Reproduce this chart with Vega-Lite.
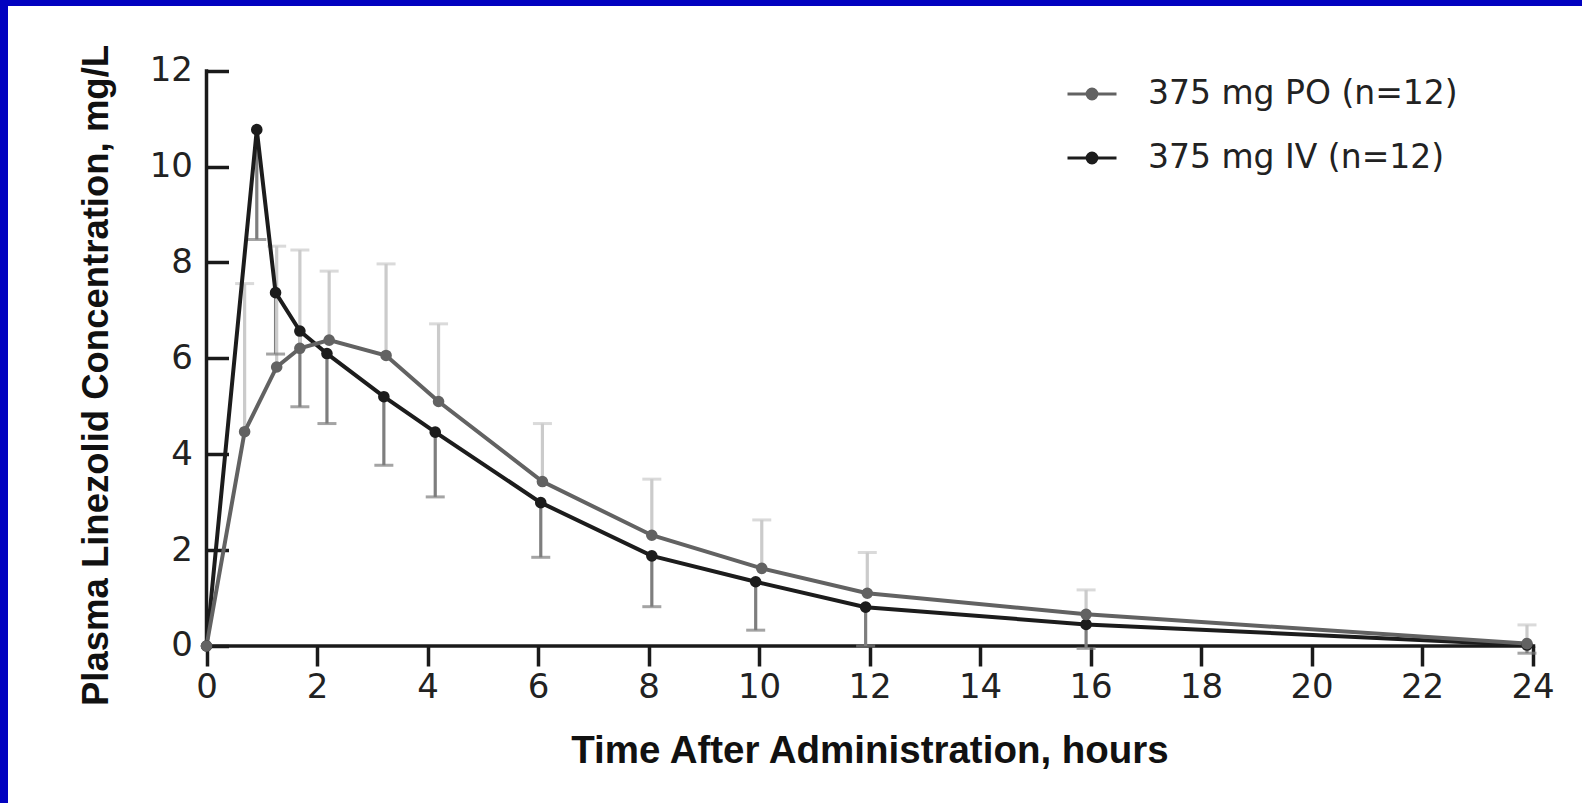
{
  "$schema": "https://vega.github.io/schema/vega-lite/v6.json",
  "width": 1574,
  "height": 797,
  "autosize": {"type": "none"},
  "padding": {"left": 8, "top": 6, "right": 0, "bottom": 0},
  "background": "#0202c0",
  "view": {"fill": "white", "stroke": null},
  "config": {"font": "DejaVu Sans"},
  "data": {
    "values": [
      {"group": "375 mg IV (n=12)", "time": 0, "conc": 0, "bound": null},
      {"group": "375 mg IV (n=12)", "time": 0.91, "conc": 10.77, "bound": 8.48},
      {"group": "375 mg IV (n=12)", "time": 1.25, "conc": 7.37, "bound": 6.09},
      {"group": "375 mg IV (n=12)", "time": 1.69, "conc": 6.57, "bound": 4.99},
      {"group": "375 mg IV (n=12)", "time": 2.18, "conc": 6.10, "bound": 4.64},
      {"group": "375 mg IV (n=12)", "time": 3.21, "conc": 5.20, "bound": 3.77},
      {"group": "375 mg IV (n=12)", "time": 4.14, "conc": 4.46, "bound": 3.11},
      {"group": "375 mg IV (n=12)", "time": 6.05, "conc": 2.99, "bound": 1.85},
      {"group": "375 mg IV (n=12)", "time": 8.06, "conc": 1.88, "bound": 0.82},
      {"group": "375 mg IV (n=12)", "time": 9.94, "conc": 1.34, "bound": 0.33},
      {"group": "375 mg IV (n=12)", "time": 11.93, "conc": 0.81, "bound": 0.0},
      {"group": "375 mg IV (n=12)", "time": 15.92, "conc": 0.45, "bound": -0.05},
      {"group": "375 mg IV (n=12)", "time": 23.9, "conc": 0.02, "bound": -0.15},
      {"group": "375 mg PO (n=12)", "time": 0, "conc": 0, "bound": null},
      {"group": "375 mg PO (n=12)", "time": 0.69, "conc": 4.47, "bound": 7.56},
      {"group": "375 mg PO (n=12)", "time": 1.27, "conc": 5.82, "bound": 8.34},
      {"group": "375 mg PO (n=12)", "time": 1.69, "conc": 6.21, "bound": 8.26},
      {"group": "375 mg PO (n=12)", "time": 2.22, "conc": 6.38, "bound": 7.82},
      {"group": "375 mg PO (n=12)", "time": 3.25, "conc": 6.06, "bound": 7.97},
      {"group": "375 mg PO (n=12)", "time": 4.2, "conc": 5.10, "bound": 6.72},
      {"group": "375 mg PO (n=12)", "time": 6.08, "conc": 3.43, "bound": 4.64},
      {"group": "375 mg PO (n=12)", "time": 8.06, "conc": 2.31, "bound": 3.48},
      {"group": "375 mg PO (n=12)", "time": 10.05, "conc": 1.62, "bound": 2.63},
      {"group": "375 mg PO (n=12)", "time": 11.96, "conc": 1.10, "bound": 1.95},
      {"group": "375 mg PO (n=12)", "time": 15.92, "conc": 0.66, "bound": 1.17},
      {"group": "375 mg PO (n=12)", "time": 23.9, "conc": 0.05, "bound": 0.44}
    ]
  },
  "layer": [
    {
      "data": {"values": [{}]},
      "mark": {"type": "rule", "color": "#1a1a1a", "strokeWidth": 3.5},
      "encoding": {
        "x": {"datum": 0, "type": "quantitative", "scale": {"domain": [-3.5928, 24.8959], "nice": false, "zero": false},
          "axis": {"values": [0, 2, 4, 6, 8, 10, 12, 14, 16, 18, 20, 22, 24], "offset": -157, "domain": false, "grid": false, "tickSize": 20, "tickWidth": 3.5, "tickColor": "#1a1a1a", "labelFont": "DejaVu Sans", "labelFontSize": 34, "labelColor": "#222222", "labelPadding": 4, "labelFlush": false, "labelOverlap": false, "title": "Time After Administration, hours", "titleFont": "Liberation Sans", "titleFontSize": 38.5, "titleFontWeight": "bold", "titleColor": "#111111", "titleX": 861.5, "titleY": 116, "titleBaseline": "alphabetic", "titleAlign": "center"}},
        "x2": {"datum": 24.05},
        "y": {"datum": 0, "type": "quantitative", "scale": {"domain": [-3.275, 13.35], "nice": false, "zero": false},
          "axis": {"values": [0, 2, 4, 6, 8, 10, 12], "offset": -198.5, "domain": false, "grid": false, "tickSize": -22, "tickWidth": 3.5, "tickColor": "#1a1a1a", "labelFont": "DejaVu Sans", "labelFontSize": 34, "labelColor": "#222222", "labelPadding": 36, "labelFlush": false, "labelOverlap": false, "title": "Plasma Linezolid Concentration, mg/L", "titleFont": "Liberation Sans", "titleFontSize": 36.5, "titleFontWeight": "bold", "titleColor": "#111111", "titleX": -99.5, "titleY": 369, "titleAngle": 270, "titleBaseline": "alphabetic", "titleAlign": "center"}}
      }
    },
    {
      "data": {"values": [{}]},
      "mark": {"type": "rule", "color": "#1a1a1a", "strokeWidth": 3.5},
      "encoding": {
        "x": {"datum": 0, "type": "quantitative", "scale": {"domain": [-3.5928, 24.8959], "nice": false, "zero": false},
          "axis": {"values": [0, 2, 4, 6, 8, 10, 12, 14, 16, 18, 20, 22, 24], "offset": -157, "domain": false, "grid": false, "tickSize": 20, "tickWidth": 3.5, "tickColor": "#1a1a1a", "labelFont": "DejaVu Sans", "labelFontSize": 34, "labelColor": "#222222", "labelPadding": 4, "labelFlush": false, "labelOverlap": false, "title": "Time After Administration, hours", "titleFont": "Liberation Sans", "titleFontSize": 38.5, "titleFontWeight": "bold", "titleColor": "#111111", "titleX": 861.5, "titleY": 116, "titleBaseline": "alphabetic", "titleAlign": "center"}},
        "y": {"datum": -0.02, "type": "quantitative", "scale": {"domain": [-3.275, 13.35], "nice": false, "zero": false},
          "axis": {"values": [0, 2, 4, 6, 8, 10, 12], "offset": -198.5, "domain": false, "grid": false, "tickSize": -22, "tickWidth": 3.5, "tickColor": "#1a1a1a", "labelFont": "DejaVu Sans", "labelFontSize": 34, "labelColor": "#222222", "labelPadding": 36, "labelFlush": false, "labelOverlap": false, "title": "Plasma Linezolid Concentration, mg/L", "titleFont": "Liberation Sans", "titleFontSize": 36.5, "titleFontWeight": "bold", "titleColor": "#111111", "titleX": -99.5, "titleY": 369, "titleAngle": 270, "titleBaseline": "alphabetic", "titleAlign": "center"}},
        "y2": {"datum": 12.03}
      }
    },
    {
      "transform": [{"filter": "datum.bound != null"}],
      "mark": {"type": "rule", "strokeWidth": 3.2},
      "encoding": {
        "x": {"field": "time", "type": "quantitative", "scale": {"domain": [-3.5928, 24.8959], "nice": false, "zero": false},
          "axis": {"values": [0, 2, 4, 6, 8, 10, 12, 14, 16, 18, 20, 22, 24], "offset": -157, "domain": false, "grid": false, "tickSize": 20, "tickWidth": 3.5, "tickColor": "#1a1a1a", "labelFont": "DejaVu Sans", "labelFontSize": 34, "labelColor": "#222222", "labelPadding": 4, "labelFlush": false, "labelOverlap": false, "title": "Time After Administration, hours", "titleFont": "Liberation Sans", "titleFontSize": 38.5, "titleFontWeight": "bold", "titleColor": "#111111", "titleX": 861.5, "titleY": 116, "titleBaseline": "alphabetic", "titleAlign": "center"}},
        "y": {"field": "conc", "type": "quantitative", "scale": {"domain": [-3.275, 13.35], "nice": false, "zero": false},
          "axis": {"values": [0, 2, 4, 6, 8, 10, 12], "offset": -198.5, "domain": false, "grid": false, "tickSize": -22, "tickWidth": 3.5, "tickColor": "#1a1a1a", "labelFont": "DejaVu Sans", "labelFontSize": 34, "labelColor": "#222222", "labelPadding": 36, "labelFlush": false, "labelOverlap": false, "title": "Plasma Linezolid Concentration, mg/L", "titleFont": "Liberation Sans", "titleFontSize": 36.5, "titleFontWeight": "bold", "titleColor": "#111111", "titleX": -99.5, "titleY": 369, "titleAngle": 270, "titleBaseline": "alphabetic", "titleAlign": "center"}},
        "y2": {"field": "bound"},
        "stroke": {"field": "group", "type": "nominal", "scale": {"domain": ["375 mg IV (n=12)", "375 mg PO (n=12)"], "range": ["#7e7e7e", "#cbcbcb"]}, "legend": null}
      }
    },
    {
      "transform": [{"filter": "datum.bound != null"}],
      "mark": {"type": "tick", "orient": "horizontal", "size": 19, "thickness": 3},
      "encoding": {
        "x": {"field": "time", "type": "quantitative", "scale": {"domain": [-3.5928, 24.8959], "nice": false, "zero": false},
          "axis": {"values": [0, 2, 4, 6, 8, 10, 12, 14, 16, 18, 20, 22, 24], "offset": -157, "domain": false, "grid": false, "tickSize": 20, "tickWidth": 3.5, "tickColor": "#1a1a1a", "labelFont": "DejaVu Sans", "labelFontSize": 34, "labelColor": "#222222", "labelPadding": 4, "labelFlush": false, "labelOverlap": false, "title": "Time After Administration, hours", "titleFont": "Liberation Sans", "titleFontSize": 38.5, "titleFontWeight": "bold", "titleColor": "#111111", "titleX": 861.5, "titleY": 116, "titleBaseline": "alphabetic", "titleAlign": "center"}},
        "y": {"field": "bound", "type": "quantitative", "scale": {"domain": [-3.275, 13.35], "nice": false, "zero": false},
          "axis": {"values": [0, 2, 4, 6, 8, 10, 12], "offset": -198.5, "domain": false, "grid": false, "tickSize": -22, "tickWidth": 3.5, "tickColor": "#1a1a1a", "labelFont": "DejaVu Sans", "labelFontSize": 34, "labelColor": "#222222", "labelPadding": 36, "labelFlush": false, "labelOverlap": false, "title": "Plasma Linezolid Concentration, mg/L", "titleFont": "Liberation Sans", "titleFontSize": 36.5, "titleFontWeight": "bold", "titleColor": "#111111", "titleX": -99.5, "titleY": 369, "titleAngle": 270, "titleBaseline": "alphabetic", "titleAlign": "center"}},
        "fill": {"field": "group", "type": "nominal", "scale": {"domain": ["375 mg IV (n=12)", "375 mg PO (n=12)"], "range": ["#7e7e7e", "#cbcbcb"]}, "legend": null}
      }
    },
    {
      "mark": {"type": "line", "strokeWidth": 4},
      "encoding": {
        "x": {"field": "time", "type": "quantitative", "scale": {"domain": [-3.5928, 24.8959], "nice": false, "zero": false},
          "axis": {"values": [0, 2, 4, 6, 8, 10, 12, 14, 16, 18, 20, 22, 24], "offset": -157, "domain": false, "grid": false, "tickSize": 20, "tickWidth": 3.5, "tickColor": "#1a1a1a", "labelFont": "DejaVu Sans", "labelFontSize": 34, "labelColor": "#222222", "labelPadding": 4, "labelFlush": false, "labelOverlap": false, "title": "Time After Administration, hours", "titleFont": "Liberation Sans", "titleFontSize": 38.5, "titleFontWeight": "bold", "titleColor": "#111111", "titleX": 861.5, "titleY": 116, "titleBaseline": "alphabetic", "titleAlign": "center"}},
        "y": {"field": "conc", "type": "quantitative", "scale": {"domain": [-3.275, 13.35], "nice": false, "zero": false},
          "axis": {"values": [0, 2, 4, 6, 8, 10, 12], "offset": -198.5, "domain": false, "grid": false, "tickSize": -22, "tickWidth": 3.5, "tickColor": "#1a1a1a", "labelFont": "DejaVu Sans", "labelFontSize": 34, "labelColor": "#222222", "labelPadding": 36, "labelFlush": false, "labelOverlap": false, "title": "Plasma Linezolid Concentration, mg/L", "titleFont": "Liberation Sans", "titleFontSize": 36.5, "titleFontWeight": "bold", "titleColor": "#111111", "titleX": -99.5, "titleY": 369, "titleAngle": 270, "titleBaseline": "alphabetic", "titleAlign": "center"}},
        "color": {"field": "group", "type": "nominal", "scale": {"domain": ["375 mg PO (n=12)", "375 mg IV (n=12)"], "range": ["#626262", "#1c1c1c"]},
          "legend": {"orient": "none", "legendX": 1058, "legendY": 62, "title": null, "symbolType": "M-1,0L1,0M-0.2,0A0.2,0.2,0,1,1,0.2,0A0.2,0.2,0,1,1,-0.2,0Z", "symbolSize": 2401, "symbolStrokeWidth": 3, "labelFont": "DejaVu Sans", "labelFontSize": 33, "labelColor": "#222222", "labelOffset": 30, "rowPadding": 21, "padding": 0, "labelLimit": 600}}
      }
    },
    {
      "mark": {"type": "circle", "size": 135, "opacity": 1},
      "encoding": {
        "x": {"field": "time", "type": "quantitative", "scale": {"domain": [-3.5928, 24.8959], "nice": false, "zero": false},
          "axis": {"values": [0, 2, 4, 6, 8, 10, 12, 14, 16, 18, 20, 22, 24], "offset": -157, "domain": false, "grid": false, "tickSize": 20, "tickWidth": 3.5, "tickColor": "#1a1a1a", "labelFont": "DejaVu Sans", "labelFontSize": 34, "labelColor": "#222222", "labelPadding": 4, "labelFlush": false, "labelOverlap": false, "title": "Time After Administration, hours", "titleFont": "Liberation Sans", "titleFontSize": 38.5, "titleFontWeight": "bold", "titleColor": "#111111", "titleX": 861.5, "titleY": 116, "titleBaseline": "alphabetic", "titleAlign": "center"}},
        "y": {"field": "conc", "type": "quantitative", "scale": {"domain": [-3.275, 13.35], "nice": false, "zero": false},
          "axis": {"values": [0, 2, 4, 6, 8, 10, 12], "offset": -198.5, "domain": false, "grid": false, "tickSize": -22, "tickWidth": 3.5, "tickColor": "#1a1a1a", "labelFont": "DejaVu Sans", "labelFontSize": 34, "labelColor": "#222222", "labelPadding": 36, "labelFlush": false, "labelOverlap": false, "title": "Plasma Linezolid Concentration, mg/L", "titleFont": "Liberation Sans", "titleFontSize": 36.5, "titleFontWeight": "bold", "titleColor": "#111111", "titleX": -99.5, "titleY": 369, "titleAngle": 270, "titleBaseline": "alphabetic", "titleAlign": "center"}},
        "color": {"field": "group", "type": "nominal", "scale": {"domain": ["375 mg PO (n=12)", "375 mg IV (n=12)"], "range": ["#626262", "#1c1c1c"]},
          "legend": {"orient": "none", "legendX": 1058, "legendY": 62, "title": null, "symbolType": "M-1,0L1,0M-0.2,0A0.2,0.2,0,1,1,0.2,0A0.2,0.2,0,1,1,-0.2,0Z", "symbolSize": 2401, "symbolStrokeWidth": 3, "labelFont": "DejaVu Sans", "labelFontSize": 33, "labelColor": "#222222", "labelOffset": 30, "rowPadding": 21, "padding": 0, "labelLimit": 600}}
      }
    }
  ]
}
